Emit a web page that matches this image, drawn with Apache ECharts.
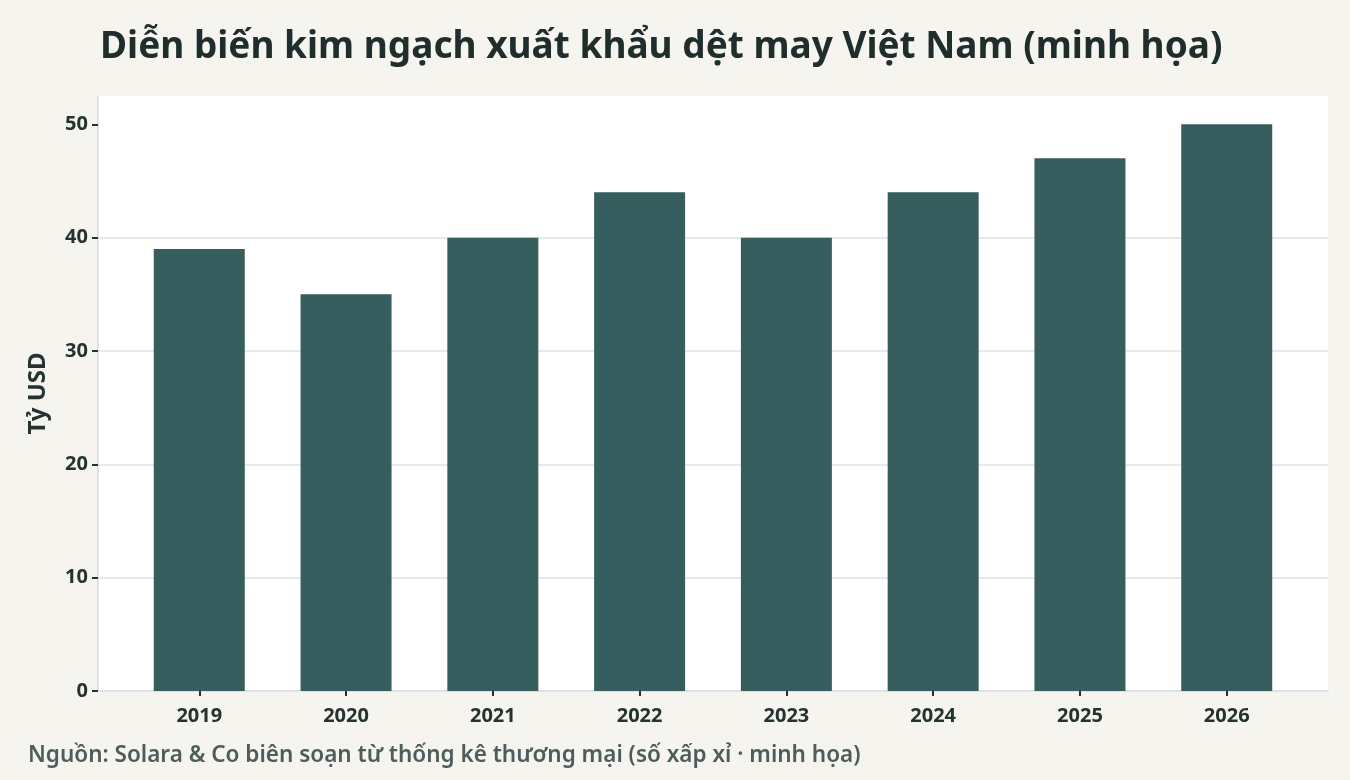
<!DOCTYPE html>
<html>
<head>
<meta charset="utf-8">
<script src="https://cdn.jsdelivr.net/npm/echarts@6/dist/echarts.min.js"></script>
<style>
  html, body { margin: 0; padding: 0; background: #f5f4ef; }
  #chart { width: 1350px; height: 780px; }
</style>
</head>
<body>
<div id="chart"></div>
<script>
const years = ['2019', '2020', '2021', '2022', '2023', '2024', '2025', '2026']
const exportValues = [39, 35, 40, 44, 40, 44, 47, 50]
const yTicks = [0, 10, 20, 30, 40, 50]

const titleText = 'Diễn biến kim ngạch xuất khẩu dệt may Việt Nam (minh họa)'
const sourceText = 'Nguồn: Solara & Co biên soạn từ thống kê thương mại (số xấp xỉ · minh họa)'

const font = '"Noto Sans", sans-serif'
const dark = '#243232'

let myChart = echarts.init(document.getElementById('chart'))
myChart.setOption({
  backgroundColor: '#f5f4ef',
  title: {
    text: titleText,
    left: 95,
    top: 24,
    textStyle: { fontFamily: font, fontSize: 37, fontWeight: 'bold', color: '#1f2d2d' }
  },
  graphic: [{
    type: 'text',
    left: 28,
    top: 744,
    style: { text: sourceText, font: '600 22.5px "Noto Sans", sans-serif', fill: '#4d5c5c' }
  }],
  grid: {
    left: 98,
    right: 22,
    top: 96,
    bottom: 89,
    show: true,
    backgroundColor: '#ffffff',
    borderWidth: 0
  },
  xAxis: {
    type: 'value',
    min: -0.69,
    max: 7.69,
    axisLine: { show: true, onZero: false, lineStyle: { color: '#dde3e3', width: 2 } },
    axisTick: { show: true, customValues: years.map((y, i) => i), length: 5, lineStyle: { color: dark, width: 2 } },
    axisLabel: {
      customValues: years.map((y, i) => i),
      formatter: (v) => years[Math.round(v)],
      fontFamily: font, fontSize: 20, fontWeight: 'bold', color: dark, margin: 15
    },
    splitLine: { show: false }
  },
  yAxis: {
    type: 'value',
    min: 0,
    max: 52.5,
    name: 'Tỷ USD',
    nameLocation: 'middle',
    nameGap: 48,
    nameTextStyle: { fontFamily: font, fontSize: 24, fontWeight: 'bold', color: dark },
    axisLine: { show: true, onZero: false, lineStyle: { color: '#dde3e3', width: 2 } },
    axisTick: { show: true, customValues: yTicks, length: 6, lineStyle: { color: dark, width: 2 } },
    axisLabel: { customValues: yTicks, fontFamily: font, fontSize: 20, fontWeight: 'bold', color: dark, margin: 10 },
    splitLine: { show: true, showMaxLine: false, showMinLine: false, lineStyle: { color: '#dde3e3', width: 1.5 } }
  },
  series: [{
    type: 'bar',
    barWidth: 91,
    itemStyle: { color: '#375e5e' },
    data: exportValues.map((v, i) => [i, v])
  }]
})
</script>
</body>
</html>
